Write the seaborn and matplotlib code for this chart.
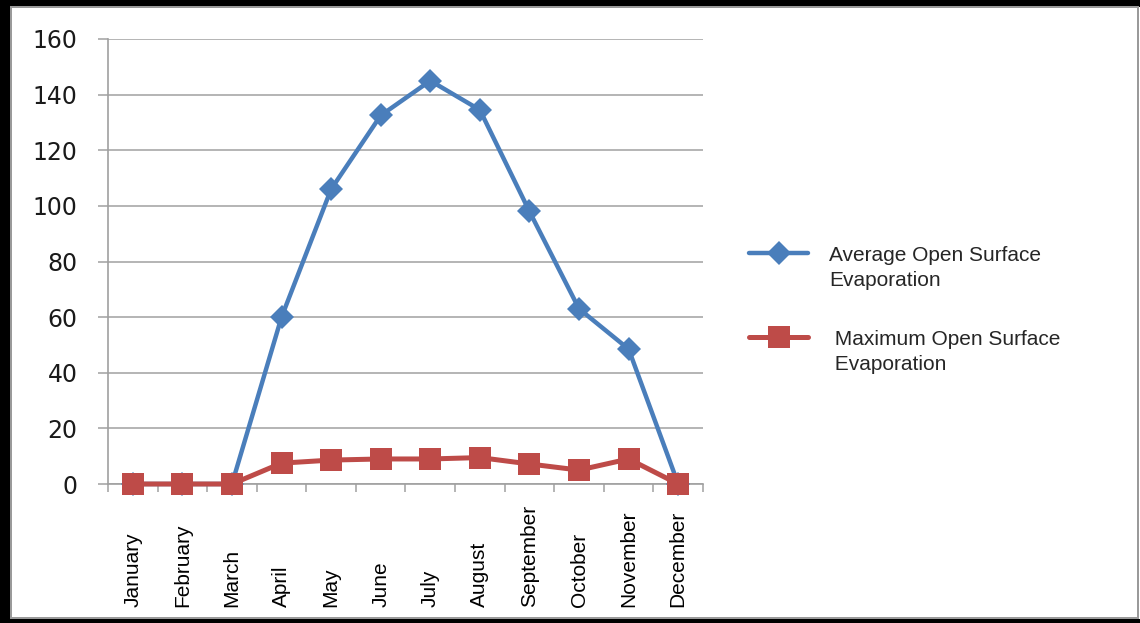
import matplotlib
matplotlib.use("Agg")
import matplotlib.pyplot as plt
import matplotlib.transforms as mtransforms
from matplotlib.patches import Rectangle
from matplotlib.legend_handler import HandlerLine2D
import pandas as pd
import seaborn as sns

months = ["January", "February", "March", "April", "May", "June", "July",
          "August", "September", "October", "November", "December"]
avg_evap = [0, 0, 0, 60, 106, 132.5, 145, 134.5, 98, 63, 48.5, 0]
max_evap = [0, 0, 0, 7.5, 8.6, 9, 9, 9.5, 7.2, 5, 9, 0]
y_ticks = [0, 20, 40, 60, 80, 100, 120, 140, 160]

avg_label = "Average Open Surface\nEvaporation"
max_label = " Maximum Open Surface\n Evaporation"

df_avg = pd.DataFrame({"pos": range(len(months)), "month": months, "value": avg_evap})
df_max = pd.DataFrame({"pos": range(len(months)), "month": months, "value": max_evap})

sns.set_style("white")
plt.rcParams["font.family"] = ["DejaVu Sans"]

W, H = 1140, 623
fig = plt.figure(figsize=(W / 100, H / 100), dpi=100)
fig.patch.set_facecolor("white")
ax = fig.add_axes([108 / W, 1 - 484 / H, (703 - 108) / W, (484 - 39) / H])

BLUE = "#4A7EBB"
RED = "#BE4B48"
GRID = "#A0A0A0"

sns.lineplot(data=df_avg, x="pos", y="value", ax=ax, color=BLUE, linewidth=3.2,
             marker="D", markersize=12.5, markeredgewidth=0, label=avg_label,
             clip_on=False, zorder=3)
sns.lineplot(data=df_max, x="pos", y="value", ax=ax, color=RED, linewidth=3.6,
             marker="s", markersize=16.5, markeredgewidth=0, label=max_label,
             clip_on=False, zorder=4)

ax.set_xlabel("")
ax.set_ylabel("")
ax.set_ylim(0, 160)
ax.set_xlim(-0.5, len(months) - 0.5)
ax.set_yticks(y_ticks)
ax.yaxis.grid(True, color=GRID, linewidth=1.1)
ax.xaxis.grid(False)
ax.set_axisbelow(True)
for side in ["top", "right"]:
    ax.spines[side].set_visible(False)
for side in ["left", "bottom"]:
    ax.spines[side].set_color(GRID)
    ax.spines[side].set_linewidth(1.2)

ax.tick_params(axis="y", length=7, width=1.1, color=GRID, pad=15,
               labelsize=17, labelcolor="#1a1a1a", left=True)

# category boundaries carry the tick marks; names are drawn separately
ax.set_xticks(range(len(months)))
ax.set_xticklabels([])
ax.tick_params(axis="x", which="major", length=0)
ax.set_xticks([i - 0.5 for i in range(len(months) + 1)], minor=True)
ax.tick_params(axis="x", which="minor", length=6, width=1.1, color=GRID, bottom=True)

trans = mtransforms.blended_transform_factory(ax.transData, fig.transFigure)
for i, m in enumerate(months):
    ax.text(i, 1 - 607 / H, m, transform=trans, rotation=90, ha="center",
            va="bottom", fontsize=15, family="Liberation Sans", color="black")


class FirstLineHandler(HandlerLine2D):
    """Line key raised so it sits level with the first line of its label."""

    def __init__(self, lift=1.45, **kw):
        super().__init__(**kw)
        self.lift = lift

    def adjust_drawing_area(self, legend, orig_handle, xdescent, ydescent,
                            width, height, fontsize):
        x, y, w, h = super().adjust_drawing_area(
            legend, orig_handle, xdescent, ydescent, width, height, fontsize)
        return x, y - self.lift * fontsize, w, h


handles, labels = ax.get_legend_handles_labels()
leg = ax.legend(handles, labels, loc="center left",
                bbox_to_anchor=(749 / W, 1 - 310 / H),
                bbox_transform=fig.transFigure, frameon=False, borderpad=0,
                borderaxespad=0, prop={"family": "Liberation Sans", "size": 15},
                handlelength=2.85, handletextpad=1.0, labelspacing=1.95,
                handler_map={h: FirstLineHandler() for h in handles})
for t in leg.get_texts():
    t.set_linespacing(1.35)

# chart-area frame
fw = fig.transFigure
def px_rect(x0, y0, w, h, color):
    fig.add_artist(Rectangle((x0 / W, 1 - (y0 + h) / H), w / W, h / H,
                             transform=fw, color=color, lw=0, zorder=10))

px_rect(0, 0, W, 6.5, "black")
px_rect(0, 0, 10.5, H, "black")
px_rect(0, 619, W, 4, "black")
px_rect(10.5, 6.5, 2, 612, "#9a9a9a")
px_rect(10.5, 6.5, W - 12, 1.5, "#9a9a9a")
px_rect(10.5, 617, W - 12, 2, "#9a9a9a")
px_rect(1137, 6.5, 2, 612, "#9a9a9a")

fig.savefig("out.png", dpi=100, facecolor="white")
